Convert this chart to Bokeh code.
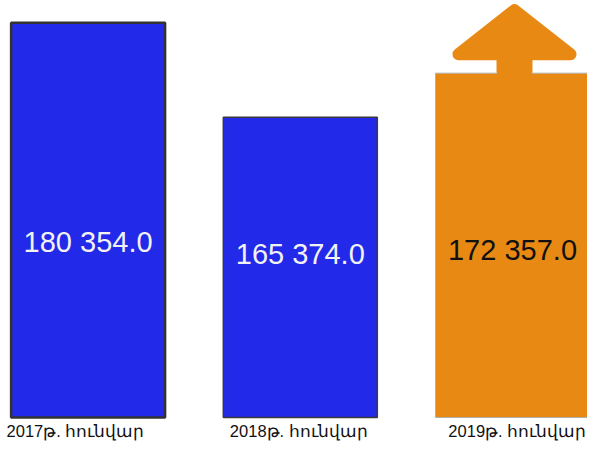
from bokeh.plotting import figure
from bokeh.models import ColumnDataSource, Range1d
from bokeh.core.properties import value
from bokeh.embed import file_html
from bokeh.resources import INLINE

# ---- data ----
categories = ["2017թ. հունվար", "2018թ. հունվար", "2019թ. հունվար"]
values = [180354.0, 165374.0, 172357.0]
value_labels = ["180 354.0", "165 374.0", "172 357.0"]
bar_colors = ["#2229E9", "#2229E9", "#E88914"]
line_colors = ["#333333", "#3a3a3a", "#b0b0b0"]
text_colors = ["#F2F2F2", "#F2F2F2", "#111111"]

W, H = 587, 446
Y_START, Y_END = 113224.0, 183870.0
BASE = 117818.0
K = (Y_END - Y_START) / H          # value units per pixel
XU = 212.2                          # pixels per category step
X0 = 87.6                           # pixel position of first category

p = figure(width=W, height=H, output_backend="svg", toolbar_location=None,
           x_range=Range1d(-X0 / XU, (W - X0) / XU), y_range=Range1d(Y_START, Y_END),
           min_border=0, outline_line_color=None)
p.axis.visible = False
p.grid.visible = False
p.background_fill_color = "white"
p.border_fill_color = "white"

xs = list(range(len(values)))
src = ColumnDataSource(dict(x=xs, top=values, color=bar_colors, lc=line_colors,
                            lw=[2.5, 1.5, 1.0]))
p.vbar(x="x", top="top", bottom=BASE, width=154 / XU, fill_color="color",
       line_color="lc", line_width="lw", source=src)

# arrow above the 2019 bar (rounded via thick round-joined outline)
i = 2
cx = xs[i] + 2 / XU
pts = [(-12, 2), (-12, 19), (-56, 19), (0, 63), (56, 19), (12, 19), (12, 2)]
p.patch([cx + dx / XU for dx, _ in pts], [values[i] + up * K for _, up in pts],
        fill_color=bar_colors[i], line_color=bar_colors[i], line_width=12,
        line_join="round")

# value labels
label_fy = [241, 253, 249]
p.text(x=xs, y=[Y_END - fy * K for fy in label_fy], text=value_labels,
       text_color=text_colors, text_font=value("Liberation Sans"),
       text_font_size="29px", text_align="center", text_baseline="middle")

# category labels
cat_dx = [-12.6, -1.5, 4.8]
p.text(x=[x + d / XU for x, d in zip(xs, cat_dx)], y=[Y_END - 430 * K] * 3,
       text=categories, text_color="#111111",
       text_font=value("Liberation Sans"),
       text_font_size="16.5px", text_align="center", text_baseline="middle")

open("out.html", "w").write(file_html(p, INLINE))
